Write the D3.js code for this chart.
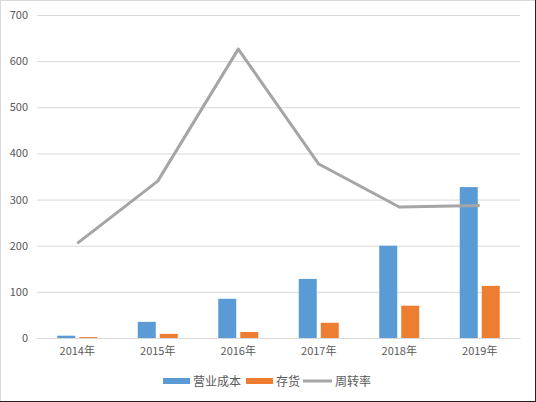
<!DOCTYPE html>
<html>
<head>
<meta charset="utf-8">
<script src="https://cdn.jsdelivr.net/npm/d3@7"></script>
<style>
  html, body { margin: 0; padding: 0; background: #fff; }
  svg { display: block; }
</style>
</head>
<body>
<svg id="chart" width="536" height="402"></svg>
<script>
// データ
var years = ["2014年", "2015年", "2016年", "2017年", "2018年", "2019年"];
var cost = [5, 35, 85, 128, 200, 327];       // 营业成本
var stock = [2, 9, 13, 33, 70, 113];         // 存货
var turnover = [205, 340, 626, 377, 284, 287]; // 周转率
var yTicks = [0, 100, 200, 300, 400, 500, 600, 700];
var seriesNames = ["营业成本", "存货", "周转率"];

var W = 536, H = 402;
// plot area (window.top とぶつかるので名前を変える)
var pLeft = 37, pRight = 520, pTop = 15, pBottom = 338;
var blue = "#5b9bd5", orange = "#ed7d31", grey = "#a5a5a5";
var font = "'Noto Sans CJK SC', 'Microsoft YaHei', sans-serif";

var svg = d3.select("#chart").style("font-family", font);

// 背景と枠
svg.append("rect").attr("x", 0).attr("y", 0).attr("width", W).attr("height", H).attr("fill", "#fff");
svg.append("rect").attr("x", 0.5).attr("y", 0.5).attr("width", W - 1).attr("height", H - 1)
    .attr("fill", "none").attr("stroke", "#d9d9d9");
svg.append("line").attr("x1", 0).attr("x2", W).attr("y1", H - 0.5).attr("y2", H - 0.5).attr("stroke", "#222");
svg.append("line").attr("x1", W - 0.5).attr("x2", W - 0.5).attr("y1", 0).attr("y2", H).attr("stroke", "#222");

var x = d3.scaleBand().domain(years).range([pLeft, pRight]);
var y = d3.scaleLinear().domain([0, 700]).range([pBottom, pTop]);

// grid + y labels
var yAxis = d3.axisLeft(y).tickValues(yTicks).tickSize(-(pRight - pLeft)).tickPadding(9);
var gy = svg.append("g").attr("transform", "translate(" + pLeft + ",0)").call(yAxis);
gy.select(".domain").remove();
gy.selectAll(".tick line").attr("stroke", "#d9d9d9");
gy.selectAll(".tick text").attr("fill", "#595959").style("font-size", "11px").style("font-family", font);

// x axis
var xAxis = d3.axisBottom(x).tickSize(0).tickPadding(9);
var gx = svg.append("g").attr("transform", "translate(0," + pBottom + ")").call(xAxis);
gx.select(".domain").attr("stroke", "#d9d9d9");
gx.selectAll(".tick text").attr("fill", "#595959").style("font-size", "11px").style("font-family", font);

// bars
var barW = 18, gap = 4;
svg.append("g").selectAll("rect")
    .data(cost).enter().append("rect")
    .attr("x", function(d, i){ return x(years[i]) + x.bandwidth()/2 - gap/2 - barW; })
    .attr("y", function(d){ return y(d); })
    .attr("width", barW)
    .attr("height", function(d){ return pBottom - y(d); })
    .attr("fill", blue);
svg.append("g").selectAll("rect")
    .data(stock).enter().append("rect")
    .attr("x", function(d, i){ return x(years[i]) + x.bandwidth()/2 + gap/2; })
    .attr("y", function(d){ return y(d); })
    .attr("width", barW)
    .attr("height", function(d){ return pBottom - y(d); })
    .attr("fill", orange);

// line
var line = d3.line()
    .x(function(d, i){ return x(years[i]) + x.bandwidth()/2; })
    .y(function(d){ return y(d); });
svg.append("path").datum(turnover)
    .attr("d", line)
    .attr("fill", "none")
    .attr("stroke", grey)
    .attr("stroke-width", 3)
    .attr("stroke-linejoin", "round");

// legend
var lg = svg.append("g");
var ly = 381;
lg.append("rect").attr("x", 163).attr("y", ly - 3).attr("width", 27).attr("height", 6).attr("fill", blue);
lg.append("text").attr("x", 193).attr("y", ly + 4.5).text(seriesNames[0]);
lg.append("rect").attr("x", 246).attr("y", ly - 3).attr("width", 27).attr("height", 6).attr("fill", orange);
lg.append("text").attr("x", 276).attr("y", ly + 4.5).text(seriesNames[1]);
lg.append("line").attr("x1", 303).attr("x2", 332).attr("y1", ly).attr("y2", ly)
    .attr("stroke", grey).attr("stroke-width", 3);
lg.append("text").attr("x", 335).attr("y", ly + 4.5).text(seriesNames[2]);
lg.selectAll("text").attr("fill", "#595959").style("font-size", "12px");
</script>
</body>
</html>
